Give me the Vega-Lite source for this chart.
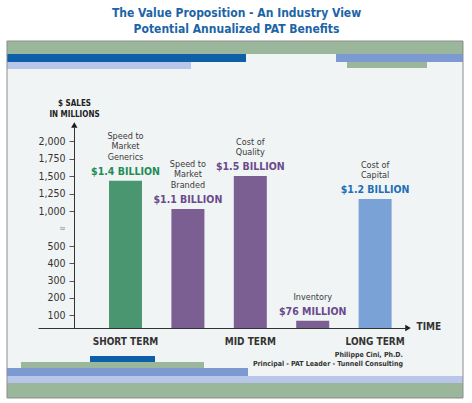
{
  "$schema": "https://vega.github.io/schema/vega-lite/v6.json",
  "width": 333,
  "height": 206,
  "autosize": {"type": "none"},
  "padding": {"left": 74, "top": 122, "right": 65, "bottom": 75},
  "background": "white",
  "config": {
    "view": {"stroke": null},
    "font": "Liberation Sans Narrow, DejaVu Sans Condensed, Lato, sans-serif"
  },
  "title": {
    "text": ["The Value Proposition - An Industry View", "Potential Annualized PAT Benefits"],
    "color": "#1c64a6",
    "fontSize": 12,
    "fontWeight": "bold",
    "lineHeight": 16,
    "anchor": "middle",
    "frame": "group",
    "dx": -4,
    "offset": 5
  },
  "datasets": {
    "deco": [
      {"kind": "frame", "x": 7, "x2": 463, "y": 41, "y2": 398},
      {"kind": "strip", "tone": "sage", "x": 7, "x2": 463, "y": 41, "y2": 54},
      {"kind": "strip", "tone": "navy", "x": 7, "x2": 246, "y": 54, "y2": 62},
      {"kind": "strip", "tone": "lilac", "x": 7, "x2": 191, "y": 62, "y2": 69},
      {"kind": "strip", "tone": "blue", "x": 336, "x2": 463, "y": 54, "y2": 62},
      {"kind": "strip", "tone": "sage", "x": 347, "x2": 427, "y": 62, "y2": 68},
      {"kind": "strip", "tone": "navy", "x": 90, "x2": 155, "y": 356, "y2": 362},
      {"kind": "strip", "tone": "sage", "x": 21, "x2": 204, "y": 362, "y2": 368},
      {"kind": "strip", "tone": "blue", "x": 7, "x2": 248, "y": 368, "y2": 376},
      {"kind": "strip", "tone": "lilac", "x": 7, "x2": 463, "y": 376, "y2": 383},
      {"kind": "strip", "tone": "sage", "x": 7, "x2": 463, "y": 383, "y2": 398},
      {"kind": "arrow", "dir": "up", "x": 74.3, "y": 125},
      {"kind": "arrow", "dir": "right", "x": 408, "y": 328},
      {"kind": "credit", "x": 403, "y": 357, "text": "Philippe Cini, Ph.D."},
      {"kind": "credit", "x": 403, "y": 366, "text": "Principal - PAT Leader - Tunnell Consulting"}
    ],
    "sales": [
      {"item": "Generics", "top": "Speed to", "mid": "Market", "low": "Generics", "sales": 1433, "label": "$1.4 BILLION"},
      {"item": "Branded", "top": "Speed to", "mid": "Market", "low": "Branded", "sales": 1029, "label": "$1.1 BILLION"},
      {"item": "Quality", "mid": "Cost of", "low": "Quality", "sales": 1500, "label": "$1.5 BILLION"},
      {"item": "Inventory", "low": "Inventory", "sales": 55, "label": "$76 MILLION"},
      {"item": "Capital", "mid": "Cost of", "low": "Capital", "sales": 1171, "label": "$1.2 BILLION"}
    ]
  },
  "layer": [
    {
      "data": {"name": "deco"},
      "encoding": {
        "x": {"field": "x", "type": "quantitative", "axis": null,
              "scale": {"domain": [0, 472], "range": [-74, 398], "nice": false, "zero": false}},
        "y": {"field": "y", "type": "quantitative", "axis": null,
              "scale": {"domain": [0, 403], "range": [-122, 281], "nice": false, "zero": false}}
      },
      "layer": [
        {
          "transform": [{"filter": "datum.kind == 'frame'"}],
          "mark": {"type": "rect", "fill": "#f1f4f4"},
          "encoding": {"x2": {"field": "x2"}, "y2": {"field": "y2"}}
        },
        {
          "transform": [{"filter": "datum.kind == 'strip'"}],
          "mark": {"type": "rect"},
          "encoding": {
            "x2": {"field": "x2"},
            "y2": {"field": "y2"},
            "color": {"field": "tone", "type": "nominal", "legend": null,
                      "scale": {"domain": ["sage", "navy", "lilac", "blue"],
                                "range": ["#9ab69b", "#0d5fa8", "#b8c6e9", "#7c99d2"]}}
          }
        },
        {
          "transform": [{"filter": "datum.kind == 'frame'"}],
          "mark": {"type": "rect", "fill": null, "stroke": "#8d8d8d", "strokeWidth": 1},
          "encoding": {"x2": {"field": "x2"}, "y2": {"field": "y2"}}
        },
        {
          "transform": [{"filter": "datum.kind == 'arrow'"}],
          "mark": {"type": "point", "filled": true, "size": 40, "color": "#1a1a1a", "opacity": 1},
          "encoding": {
            "shape": {"field": "dir", "type": "nominal", "legend": null,
                      "scale": {"domain": ["up", "right"], "range": ["triangle-up", "triangle-right"]}}
          }
        },
        {
          "transform": [{"filter": "datum.kind == 'credit'"}],
          "mark": {"type": "text", "align": "right", "baseline": "alphabetic", "fontSize": 7, "fontWeight": "bold", "color": "#333333"},
          "encoding": {"text": {"field": "text"}}
        }
      ]
    },
    {
      "data": {"name": "sales"},
      "encoding": {
        "x": {
          "field": "item",
          "type": "nominal",
          "sort": null,
          "scale": {"range": [-36, 333], "paddingInner": 0.471, "paddingOuter": 0.692, "align": 0.822},
          "axis": {
            "labelExpr": "datum.value == 'Generics' ? 'SHORT TERM' : datum.value == 'Quality' ? 'MID TERM' : datum.value == 'Capital' ? 'LONG TERM' : ''",
            "labelAngle": 0,
            "labelFontSize": 10,
            "labelFontWeight": "bold",
            "labelColor": "#333333",
            "labelPadding": 8,
            "labelBaseline": "top",
            "labelOverlap": false,
            "labelFlush": false,
            "ticks": false,
            "domainColor": "#333333",
            "title": "TIME",
            "titleX": 342,
            "titleY": -2,
            "titleAlign": "left",
            "titleBaseline": "middle",
            "titleFontSize": 10,
            "titleFontWeight": "bold",
            "titleColor": "#333333",
            "zindex": 1
          }
        },
        "y": {
          "field": "sales",
          "type": "quantitative",
          "scale": {"domain": [0, 100, 500, 1000, 2000, 2200], "range": [206, 193, 124, 89, 19, 5], "nice": false, "zero": false},
          "axis": {
            "values": [100, 200, 300, 400, 500, 750, 1000, 1250, 1500, 1750, 2000],
            "labelExpr": "datum.value == 750 ? '≈' : format(datum.value, ',')",
            "labelFontSize": {"condition": {"test": "datum.value == 750", "value": 8}, "value": 10.5},
            "labelColor": {"condition": {"test": "datum.value == 750", "value": "#777777"}, "value": "#333333"},
            "labelPadding": 4,
            "tickSize": 5,
            "tickColor": "#555555",
            "tickOpacity": {"condition": {"test": "datum.value == 750", "value": 0}, "value": 1},
            "domainColor": "#333333",
            "grid": false,
            "title": ["$ SALES", "IN MILLIONS"],
            "titleAngle": 0,
            "titleAlign": "center",
            "titleBaseline": "alphabetic",
            "titleX": 0,
            "titleY": -17,
            "titleFontSize": 8,
            "titleFontWeight": "bold",
            "titleColor": "#222222",
            "titleLineHeight": 11,
            "zindex": 1
          }
        }
      },
      "layer": [
        {
          "mark": {"type": "bar"},
          "encoding": {
            "color": {"field": "item", "type": "nominal", "legend": null,
                      "scale": {"domain": ["Generics", "Branded", "Quality", "Inventory", "Capital"],
                                "range": ["#4a9670", "#7b5f93", "#7b5f93", "#7b5f93", "#7ba2d6"]}}
          }
        },
        {
          "mark": {"type": "text", "baseline": "alphabetic", "dy": -6, "fontSize": 10.5, "fontWeight": "bold"},
          "encoding": {
            "text": {"field": "label"},
            "fill": {"field": "item", "type": "nominal", "legend": null,
                     "scale": {"domain": ["Generics", "Branded", "Quality", "Inventory", "Capital"],
                               "range": ["#1f8c58", "#6a4a8c", "#6a4a8c", "#6a4a8c", "#1f6fb6"]}}
          }
        },
        {
          "transform": [{"filter": "isValid(datum.low)"}],
          "mark": {"type": "text", "baseline": "alphabetic", "dy": -21, "fontSize": 9, "color": "#3a3a3a"},
          "encoding": {"text": {"field": "low"}}
        },
        {
          "transform": [{"filter": "isValid(datum.mid)"}],
          "mark": {"type": "text", "baseline": "alphabetic", "dy": -31.5, "fontSize": 9, "color": "#3a3a3a"},
          "encoding": {"text": {"field": "mid"}}
        },
        {
          "transform": [{"filter": "isValid(datum.top)"}],
          "mark": {"type": "text", "baseline": "alphabetic", "dy": -42, "fontSize": 9, "color": "#3a3a3a"},
          "encoding": {"text": {"field": "top"}}
        }
      ]
    }
  ],
  "resolve": {
    "scale": {"x": "independent", "y": "independent", "color": "independent"},
    "axis": {"x": "independent", "y": "independent"}
  }
}
